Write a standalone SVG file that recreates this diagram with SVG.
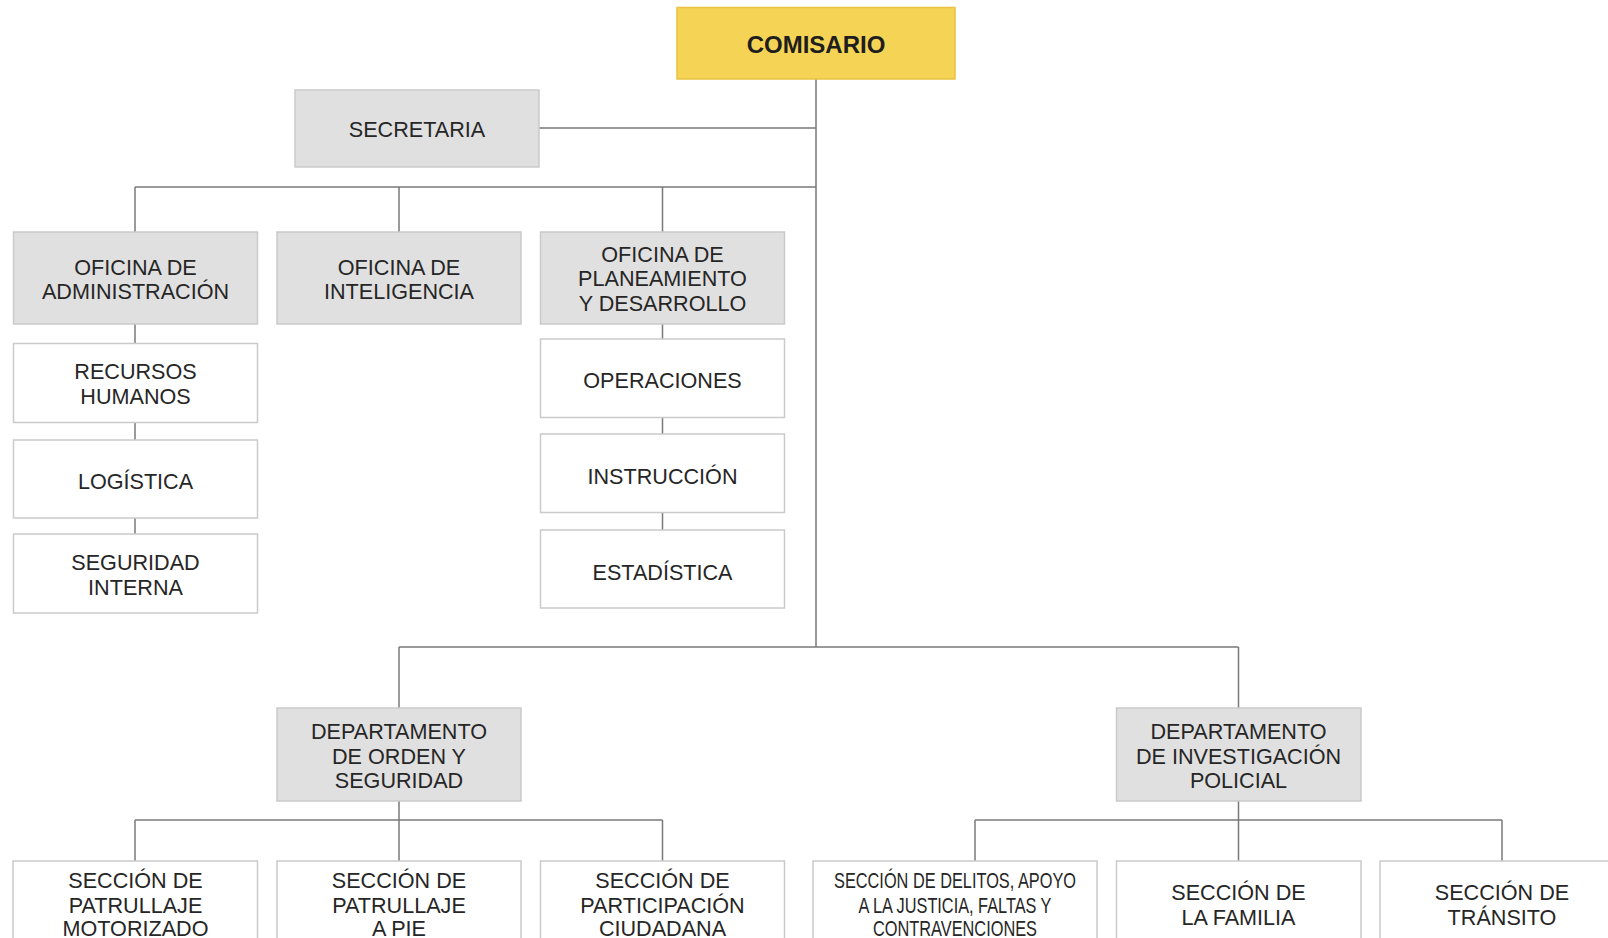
<svg xmlns="http://www.w3.org/2000/svg" width="1608" height="938" viewBox="0 0 1608 938">
<style>
.bg{fill:#ffffff}
.g{fill:#e0e0e0;stroke:#cacaca;stroke-width:1.5}
.w{fill:#ffffff;stroke:#cacaca;stroke-width:1.5}
.y{fill:#f5d355;stroke:#e9c243;stroke-width:1.5}
.c{fill:none;stroke:#7a7a7a;stroke-width:1.5}
text{font-family:"Liberation Sans",Arial,sans-serif;font-size:21.6px;fill:#262626;text-anchor:middle}
.b{font-weight:bold;font-size:24px;fill:#1e1e1e}
</style>
<rect class="bg" x="0" y="0" width="1608" height="938"/>
<g id="connectors">
<path class="c" d="M816 79V647M539 128H816M135 187H816M135 187V232M399 187V232M662.5 187V232"/>
<path class="c" d="M135 324V343.5M135 422.5V440M135 518V534"/>
<path class="c" d="M662.5 324V339M662.5 417.5V434M662.5 512.5V530"/>
<path class="c" d="M399 647H1238.5M399 647V708M1238.5 647V708"/>
<path class="c" d="M399 801V861M135 820H662.5M135 820V861M662.5 820V861"/>
<path class="c" d="M1238.5 801V861M975 820H1502M975 820V861M1502 820V861"/>
</g>
<g id="comisario"><rect class="y" x="677" y="7.5" width="278" height="71.5"/><text class="b" x="816" y="52.5">COMISARIO</text></g>
<g id="secretaria"><rect class="g" x="295" y="90" width="244" height="77"/><text x="417" y="137">SECRETARIA</text></g>
<g id="of-administracion"><rect class="g" x="13.5" y="232" width="244" height="92"/><text x="135.5" y="274.5">OFICINA DE</text><text x="135.5" y="299">ADMINISTRACIÓN</text></g>
<g id="of-inteligencia"><rect class="g" x="277" y="232" width="244" height="92"/><text x="399" y="274.5">OFICINA DE</text><text x="399" y="299">INTELIGENCIA</text></g>
<g id="of-planeamiento"><rect class="g" x="540.5" y="232" width="244" height="92"/><text x="662.5" y="261.5">OFICINA DE</text><text x="662.5" y="286">PLANEAMIENTO</text><text x="662.5" y="310.5">Y DESARROLLO</text></g>
<g id="recursos-humanos"><rect class="w" x="13.5" y="343.5" width="244" height="79"/><text x="135.5" y="379.2">RECURSOS</text><text x="135.5" y="403.8">HUMANOS</text></g>
<g id="logistica"><rect class="w" x="13.5" y="440" width="244" height="78"/><text x="135.5" y="489">LOGÍSTICA</text></g>
<g id="seguridad-interna"><rect class="w" x="13.5" y="534" width="244" height="79"/><text x="135.5" y="570">SEGURIDAD</text><text x="135.5" y="594.5">INTERNA</text></g>
<g id="operaciones"><rect class="w" x="540.5" y="339" width="244" height="78.5"/><text x="662.5" y="387.5">OPERACIONES</text></g>
<g id="instruccion"><rect class="w" x="540.5" y="434" width="244" height="78.5"/><text x="662.5" y="483.8">INSTRUCCIÓN</text></g>
<g id="estadistica"><rect class="w" x="540.5" y="530" width="244" height="78"/><text x="662.5" y="580.2">ESTADÍSTICA</text></g>
<g id="dep-orden"><rect class="g" x="277" y="708" width="244" height="93"/><text x="399" y="739.2">DEPARTAMENTO</text><text x="399" y="763.8">DE ORDEN Y</text><text x="399" y="787.5">SEGURIDAD</text></g>
<g id="dep-investigacion"><rect class="g" x="1116.5" y="708" width="244.5" height="93"/><text x="1238.5" y="739.2">DEPARTAMENTO</text><text x="1238.5" y="763.8">DE INVESTIGACIÓN</text><text x="1238.5" y="787.5">POLICIAL</text></g>
<g id="sec-motorizado"><rect class="w" x="13" y="861" width="244.5" height="90"/><text x="135.5" y="887.9">SECCIÓN DE</text><text x="135.5" y="912.5">PATRULLAJE</text><text x="135.5" y="936">MOTORIZADO</text></g>
<g id="sec-pie"><rect class="w" x="277" y="861" width="244" height="90"/><text x="399" y="887.9">SECCIÓN DE</text><text x="399" y="912.5">PATRULLAJE</text><text x="399" y="936">A PIE</text></g>
<g id="sec-participacion"><rect class="w" x="540.5" y="861" width="244" height="90"/><text x="662.5" y="887.9">SECCIÓN DE</text><text x="662.5" y="912.5">PARTICIPACIÓN</text><text x="662.5" y="936">CIUDADANA</text></g>
<g id="sec-delitos"><rect class="w" x="813" y="861" width="284" height="90"/><text x="955" y="887.9" textLength="242" lengthAdjust="spacingAndGlyphs">SECCIÓN DE DELITOS, APOYO</text><text x="955" y="912.5" textLength="193" lengthAdjust="spacingAndGlyphs">A LA JUSTICIA, FALTAS Y</text><text x="955" y="936" textLength="164" lengthAdjust="spacingAndGlyphs">CONTRAVENCIONES</text></g>
<g id="sec-familia"><rect class="w" x="1116.5" y="861" width="244.5" height="90"/><text x="1238.5" y="900.2">SECCIÓN DE</text><text x="1238.5" y="924.8">LA FAMILIA</text></g>
<g id="sec-transito"><rect class="w" x="1380" y="861" width="244" height="90"/><text x="1502" y="900.2">SECCIÓN DE</text><text x="1502" y="924.8">TRÁNSITO</text></g>
</svg>
